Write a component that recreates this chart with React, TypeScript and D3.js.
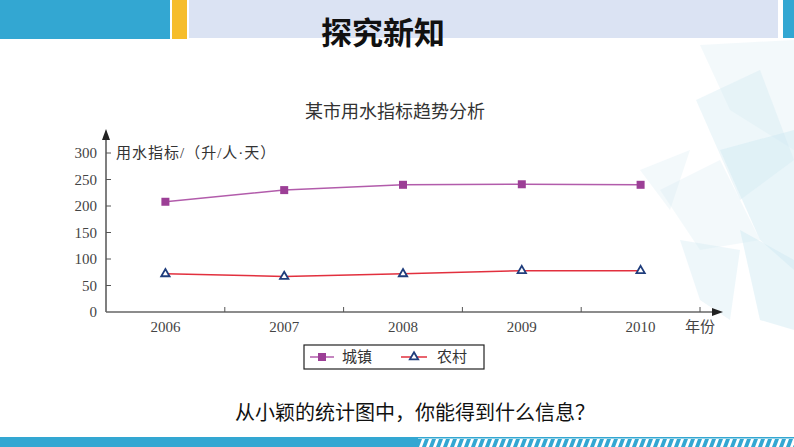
import React from "react";
import * as d3 from "d3";

const years = ["2006", "2007", "2008", "2009", "2010"];
const urban = [208, 230, 240, 241, 240];
const rural = [72, 67, 72, 78, 78];
const yTicks = [0, 50, 100, 150, 200, 250, 300];

const W = 794;
const H = 447;

const serif = "'Liberation Serif', 'DejaVu Serif', 'Noto Sans CJK SC', serif";
const cjk = "'Noto Sans CJK SC', sans-serif";

export default function App() {
  const x = d3.scaleBand<string>().domain(years).range([106, 700]);
  const y = d3.scaleLinear().domain([0, 300]).range([312, 153]);
  const cx = (d: string) => (x(d) as number) + x.bandwidth() / 2;

  const line = d3
    .line<number>()
    .x((_, i) => cx(years[i]))
    .y((d) => y(d));

  const tri = d3.symbol().type(d3.symbolTriangle).size(30);

  // faint low-poly decoration at the right
  const polys = [
    "700,45 794,40 794,150 730,110",
    "696,100 760,70 794,160 740,200",
    "720,150 794,130 794,270 760,240",
    "660,190 720,160 760,240 700,250",
    "680,240 740,250 730,320 700,300",
    "740,230 794,260 794,330 760,320",
    "640,170 690,150 670,210",
  ];

  const stripes = d3.range(418, W + 8, 7);

  return (
    <svg
      width={W}
      height={H}
      style={{ position: "absolute", left: 0, top: 0, background: "#fff" }}
    >
      {polys.map((p, i) => (
        <polygon key={i} points={p} fill="#cfe8f1" opacity={0.25 + (i % 3) * 0.1} />
      ))}

      {/* header */}
      <rect x={0} y={0} width={170} height={39} fill="#33a7d2" />
      <rect x={172} y={0} width={15} height={39} fill="#f6bd2b" />
      <rect x={189} y={0} width={589} height={38} fill="#dbe3f3" />
      <rect x={783} y={0} width={11} height={38} fill="#33a7d2" />
      <text x={383} y={44} textAnchor="middle" fontFamily={cjk} fontWeight="bold" fontSize={31} fill="#111">
        探究新知
      </text>

      {/* chart title */}
      <text x={395} y={118} textAnchor="middle" fontFamily={serif} fontSize={18} fill="#333">
        某市用水指标趋势分析
      </text>

      {/* y axis */}
      <line x1={106} x2={106} y1={312} y2={136} stroke="#555" strokeWidth={1.5} />
      <path d="M106,129 L102,140 L110,140 Z" fill="#222" />
      {yTicks.map((t) => (
        <g key={t}>
          {t > 0 && <line x1={106} x2={111} y1={y(t)} y2={y(t)} stroke="#555" />}
          <text x={97} y={y(t) + 5} textAnchor="end" fontFamily={serif} fontSize={15} fill="#444">
            {t}
          </text>
        </g>
      ))}
      <text x={116} y={158} fontFamily={serif} fontSize={15} letterSpacing={1} fill="#333">
        用水指标/（升/人·天）
      </text>

      {/* x axis */}
      <line x1={106} x2={716} y1={312} y2={312} stroke="#666" strokeWidth={1.5} />
      <path d="M723,312 L712,308 L712,316 Z" fill="#222" />
      {years.map((yr) => (
        <g key={yr}>
          <line
            x1={(x(yr) as number) + x.bandwidth()}
            x2={(x(yr) as number) + x.bandwidth()}
            y1={312}
            y2={307}
            stroke="#555"
          />
          <text x={cx(yr)} y={332} textAnchor="middle" fontFamily={serif} fontSize={15} fill="#444">
            {yr}
          </text>
        </g>
      ))}
      <text x={685} y={332} fontFamily={serif} fontSize={15} fill="#444">
        年份
      </text>

      {/* series */}
      <path d={line(urban) as string} fill="none" stroke="#b25cab" strokeWidth={1.5} />
      {urban.map((v, i) => (
        <rect key={i} x={cx(years[i]) - 4} y={y(v) - 4} width={8} height={8} fill="#9c3f96" />
      ))}
      <path d={line(rural) as string} fill="none" stroke="#e2303e" strokeWidth={1.5} />
      {rural.map((v, i) => (
        <path
          key={i}
          d={tri() as string}
          transform={`translate(${cx(years[i])},${y(v)})`}
          fill="#fff"
          stroke="#1f3d7c"
          strokeWidth={1.8}
        />
      ))}

      {/* legend */}
      <rect x={304} y={345} width={180} height={24} fill="#fff" stroke="#222" strokeWidth={1.2} />
      <line x1={310} x2={334} y1={357} y2={357} stroke="#b25cab" strokeWidth={1.5} />
      <rect x={318} y={353} width={8} height={8} fill="#9c3f96" />
      <text x={342} y={362} fontFamily={serif} fontSize={15} fill="#333">
        城镇
      </text>
      <line x1={401} x2={427} y1={357} y2={357} stroke="#e2303e" strokeWidth={1.5} />
      <path d={tri() as string} transform="translate(414,357)" fill="#fff" stroke="#1f3d7c" strokeWidth={1.8} />
      <text x={437} y={362} fontFamily={serif} fontSize={15} fill="#333">
        农村
      </text>

      {/* question */}
      <text x={415} y={420} textAnchor="middle" fontFamily={cjk} fontSize={20} fill="#111">
        从小颖的统计图中，你能得到什么信息？
      </text>

      {/* bottom band */}
      <rect x={0} y={437} width={418} height={10} fill="#33a7d2" />
      <rect x={418} y={437} width={376} height={1.5} fill="#33a7d2" />
      {stripes.map((s) => (
        <polygon key={s} points={`${s},439 ${s + 4},439 ${s + 1},447 ${s - 3},447`} fill="#33a7d2" />
      ))}
    </svg>
  );
}
